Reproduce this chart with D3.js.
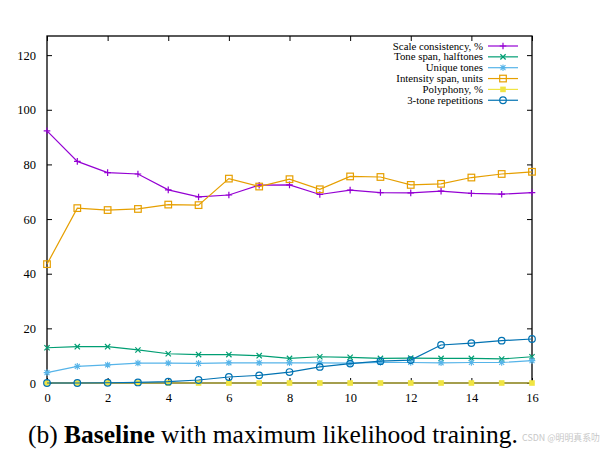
<!DOCTYPE html>
<html><head><meta charset="utf-8">
<script src="https://cdn.jsdelivr.net/npm/d3@7"></script>
<style>body{margin:0;background:#fff}svg{display:block}</style>
</head><body>
<script>
const steps = d3.range(0, 17);
const xTicks = [0,2,4,6,8,10,12,14,16];
const yTicks = [0,20,40,60,80,100,120];
const seriesNames = ["Scale consistency, %","Tone span, halftones","Unique tones","Intensity span, units","Polyphony, %","3-tone repetitions"];
const seriesColors = ["#9400d3","#009e73","#56b4e9","#e69f00","#f0e442","#0072b2"];
const seriesMarkers = ["plus","cross","star","square","filledSquare","circle"];
const scaleConsistency = [92.3,81.1,77.0,76.5,70.7,68.1,68.8,72.4,72.5,69.0,70.6,69.7,69.6,70.2,69.4,69.1,69.7];
const toneSpan = [12.9,13.3,13.3,12.1,10.7,10.4,10.4,10.0,9.0,9.6,9.4,9.0,9.1,9.0,9.0,8.8,9.6];
const uniqueTones = [3.8,6.1,6.6,7.3,7.3,7.2,7.4,7.4,7.4,7.4,7.3,7.5,7.5,7.4,7.5,7.5,8.2];
const intensitySpan = [43.5,64.0,63.3,63.7,65.3,65.1,74.8,71.9,74.6,70.9,75.6,75.4,72.5,72.9,75.2,76.5,77.3];
const polyphony = [0,0,0,0,0,0,0,0,0,0,0,0,0,0,0,0,0];
const toneRepetitions = [0,0,0.1,0.2,0.5,1.1,2.2,2.8,4.0,5.9,7.1,8.0,8.4,13.9,14.6,15.5,16.1];
const seriesValues = [scaleConsistency,toneSpan,uniqueTones,intensitySpan,polyphony,toneRepetitions];

const SERIF='"Liberation Serif"';
const W=603,H=450;
const L=47,R=532,T=36,B=383;
const svg=d3.select("body").append("svg").attr("width",W).attr("height",H);
const x=d3.scaleLinear().domain([0,16]).range([L,R]);
const y=d3.scaleLinear().domain([0,127]).range([B,T]);

svg.append("rect").attr("x",L).attr("y",T).attr("width",R-L).attr("height",B-T)
  .attr("fill","none").attr("stroke","#000").attr("stroke-width",1.3);

const tl=5;
const gx=svg.append("g").attr("transform",`translate(0,${B})`)
  .call(d3.axisBottom(x).tickValues(xTicks).tickSize(-tl).tickPadding(10).tickFormat(d3.format("d")));
const gxt=svg.append("g").attr("transform",`translate(0,${T})`)
  .call(d3.axisTop(x).tickValues(xTicks).tickSize(-tl).tickFormat(""));
const gy=svg.append("g").attr("transform",`translate(${L},0)`)
  .call(d3.axisLeft(y).tickValues(yTicks).tickSize(-tl).tickPadding(11).tickFormat(d3.format("d")));
const gyr=svg.append("g").attr("transform",`translate(${R},0)`)
  .call(d3.axisRight(y).tickValues(yTicks).tickSize(-tl).tickFormat(""));
[gx,gxt,gy,gyr].forEach(g=>{
  g.attr("font-family",SERIF);
  g.select(".domain").remove();
  g.selectAll("line").attr("stroke","#000").attr("stroke-width",1);
  g.selectAll("text").style("font-family",SERIF).style("font-size","12.5px").attr("fill","#000");
});

function marker(g,type,cx,cy,color){
  const s=3.3;
  if(type==="plus"){
    g.append("path").attr("d",`M${cx-s},${cy}H${cx+s}M${cx},${cy-s}V${cy+s}`).attr("stroke",color).attr("stroke-width",1.2);
  } else if(type==="cross"){
    g.append("path").attr("d",`M${cx-s*0.8},${cy-s*0.8}L${cx+s*0.8},${cy+s*0.8}M${cx-s*0.8},${cy+s*0.8}L${cx+s*0.8},${cy-s*0.8}`).attr("stroke",color).attr("stroke-width",1.2);
  } else if(type==="star"){
    g.append("path").attr("d",`M${cx-s},${cy}H${cx+s}M${cx},${cy-s}V${cy+s}M${cx-s*0.75},${cy-s*0.75}L${cx+s*0.75},${cy+s*0.75}M${cx-s*0.75},${cy+s*0.75}L${cx+s*0.75},${cy-s*0.75}`).attr("stroke",color).attr("stroke-width",1.1);
  } else if(type==="square"){
    g.append("rect").attr("x",cx-s).attr("y",cy-s).attr("width",2*s).attr("height",2*s).attr("fill","none").attr("stroke",color).attr("stroke-width",1.2);
  } else if(type==="filledSquare"){
    const q=2.8;
    g.append("rect").attr("x",cx-q).attr("y",cy-q).attr("width",2*q).attr("height",2*q).attr("fill",color).attr("stroke","none");
  } else if(type==="circle"){
    g.append("circle").attr("cx",cx).attr("cy",cy).attr("r",s).attr("fill","none").attr("stroke",color).attr("stroke-width",1.2);
  }
}

const line=d3.line().x((d,i)=>x(steps[i])).y(d=>y(d));
seriesValues.forEach((vals,k)=>{
  const g=svg.append("g");
  g.append("path").datum(vals).attr("d",line).attr("fill","none")
    .attr("stroke",seriesColors[k]).attr("stroke-width",1.2);
  vals.forEach((v,i)=>marker(g,seriesMarkers[k],x(steps[i]),y(v),seriesColors[k]));
});

const lg=svg.append("g");
seriesNames.forEach((n,k)=>{
  const yy=46+k*10.85;
  lg.append("text").attr("x",483).attr("y",yy).attr("dy","0.33em").attr("text-anchor","end")
    .style("font-family",SERIF).style("font-size","10.8px").attr("fill","#000").text(n);
  lg.append("line").attr("x1",488).attr("x2",518).attr("y1",yy).attr("y2",yy)
    .attr("stroke",seriesColors[k]).attr("stroke-width",1.2);
  marker(lg,seriesMarkers[k],503,yy,seriesColors[k]);
});

const capW=490;
const cap=svg.append("text").attr("x",28).attr("y",443).style("font-family",SERIF).style("font-size","24px").attr("fill","#000");
cap.append("tspan").text("(b) ");
cap.append("tspan").style("font-weight","bold").text("Baseline");
cap.append("tspan").text(" with maximum likelihood training.");
const cw=cap.node().getComputedTextLength();
if(cw>0) cap.style("font-size",(24*capW/cw).toFixed(2)+"px");

const wmX=28+capW+4;
const wm=svg.append("text").attr("x",wmX).attr("y",441).attr("text-anchor","start")
  .style("font-family","'Noto Sans CJK SC','Noto Sans',sans-serif").style("font-size","10px")
  .attr("fill","#c8c8c8").text("CSDN @明明真系叻");
const ww=wm.node().getComputedTextLength();
if(ww>0) wm.style("font-size",Math.min(10,10*(600-wmX)/ww).toFixed(2)+"px");
</script>
</body></html>
